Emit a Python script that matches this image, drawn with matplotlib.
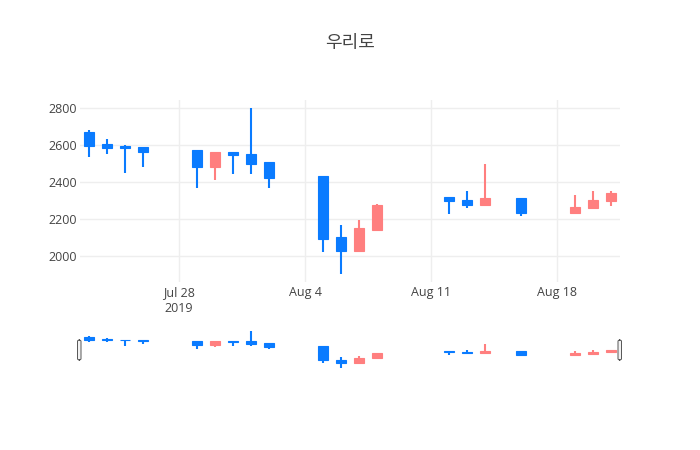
import matplotlib
matplotlib.use("Agg")
import matplotlib.pyplot as plt
import matplotlib.dates as mdates
from matplotlib.patches import FancyBboxPatch
import pandas as pd

plt.rcParams['font.family'] = ['Open Sans', 'Noto Sans CJK KR', 'DejaVu Sans']

title = "우리로"
dates = ["2019-07-23", "2019-07-24", "2019-07-25", "2019-07-26",
         "2019-07-29", "2019-07-30", "2019-07-31", "2019-08-01", "2019-08-02",
         "2019-08-05", "2019-08-06", "2019-08-07", "2019-08-08",
         "2019-08-12", "2019-08-13", "2019-08-14", "2019-08-16",
         "2019-08-19", "2019-08-20", "2019-08-21"]
opens = [2670, 2605, 2595, 2590, 2575, 2480, 2565, 2555, 2510,
         2435, 2105, 2030, 2140, 2320, 2305, 2275, 2315, 2235, 2258, 2298]
highs = [2680, 2635, 2600, 2590, 2575, 2565, 2565, 2800, 2510,
         2435, 2170, 2195, 2280, 2320, 2350, 2500, 2315, 2330, 2350, 2350]
lows = [2535, 2550, 2450, 2485, 2370, 2410, 2445, 2445, 2370,
        2020, 1905, 2030, 2140, 2230, 2262, 2275, 2215, 2235, 2258, 2270]
closes = [2595, 2585, 2585, 2565, 2480, 2565, 2545, 2500, 2425,
          2095, 2030, 2150, 2275, 2300, 2275, 2315, 2235, 2265, 2305, 2340]

tick_dates = ["2019-07-28", "2019-08-04", "2019-08-11", "2019-08-18"]
tick_labels = ["Jul 28\n2019", "Aug 4", "Aug 11", "Aug 18"]
y_ticks = [2000, 2200, 2400, 2600, 2800]

up_color = "#ff7f7f"
down_color = "#0a7bff"

x = mdates.date2num(pd.to_datetime(dates))
xmin = mdates.date2num(pd.Timestamp("2019-07-22 12:00"))
xmax = mdates.date2num(pd.Timestamp("2019-08-21 12:00"))
span = max(highs) - min(lows)
ymin, ymax = min(lows) - span * 0.05, max(highs) + span * 0.05


def draw_candles(ax, lw):
    for xi, o, h, l, c in zip(x, opens, highs, lows, closes):
        col = up_color if c >= o else down_color
        ax.vlines(xi, l, h, color=col, linewidth=lw, zorder=2)
        ax.bar(xi, c - o, bottom=o, width=0.55, color=col, edgecolor=col,
               linewidth=0.8, zorder=3)


fig = plt.figure(figsize=(7, 4.5), dpi=100)
W, H = 700, 450

ax = fig.add_axes([80 / W, (H - 282) / H, 540 / W, 182 / H])
draw_candles(ax, 1.5)
ax.set_xlim(xmin, xmax)
ax.set_ylim(ymin, ymax)
ax.set_xticks(mdates.date2num(pd.to_datetime(tick_dates)))
ax.set_xticklabels(tick_labels)
ax.set_yticks(y_ticks)
ax.grid(True, color="#eeeeee", linewidth=1, zorder=0)
ax.set_axisbelow(True)
for s in ax.spines.values():
    s.set_visible(False)
ax.tick_params(length=0, labelsize=9, colors="#444444", pad=3)
ax.tick_params(axis="y", pad=2)
for t in ax.get_xticklabels():
    t.set_linespacing(1.25)

# range slider
sl = fig.add_axes([80 / W, (H - 370) / H, 540 / W, 40.5 / H])
draw_candles(sl, 1.5)
sl.set_xlim(xmin, xmax)
sl.set_ylim(ymin, ymax)
sl.set_xticks([])
sl.set_yticks([])
for s in sl.spines.values():
    s.set_visible(False)

for hx in (77.5, 618):
    fig.patches.append(FancyBboxPatch(((hx) / W, (H - 360) / H), 3.5 / W, 20 / H,
                                      boxstyle="round,pad=0,rounding_size=0.003",
                                      transform=fig.transFigure, facecolor="#f2f2f2",
                                      edgecolor="#555555", linewidth=0.7))

fig.text(350 / W, 1 - 43 / H, title, ha="center", va="center", fontsize=13,
         color="#444444", family=['Noto Sans CJK KR', 'DejaVu Sans'])

fig.savefig("out.png", dpi=100)
